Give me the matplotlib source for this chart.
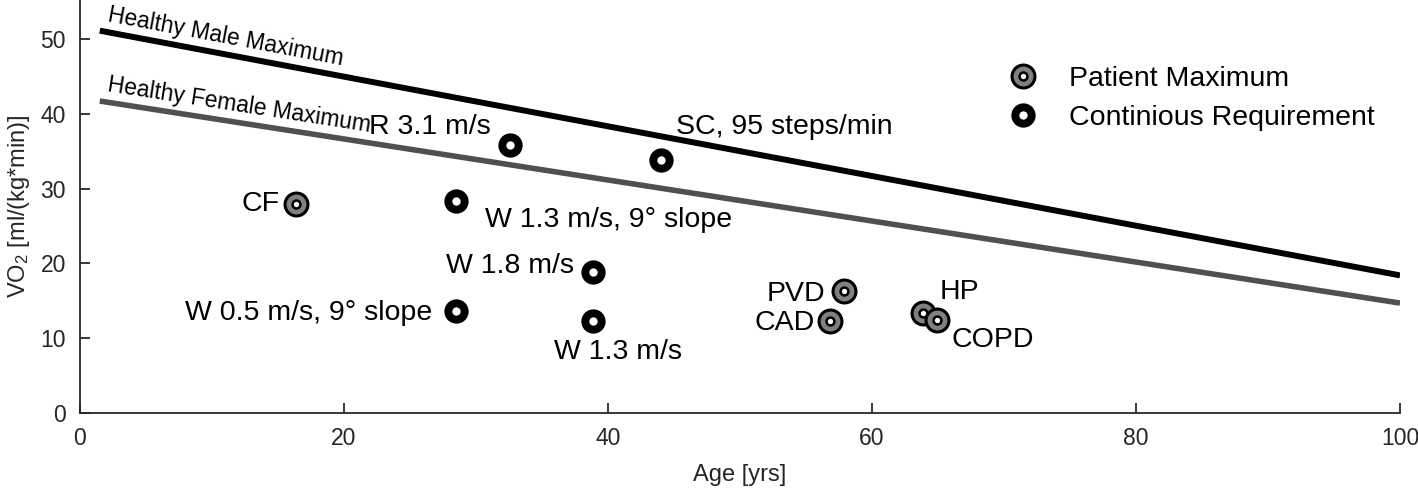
import numpy as np
import matplotlib; matplotlib.use("Agg")
import matplotlib.pyplot as plt
from matplotlib.lines import Line2D

plt.rcParams["font.family"] = ["Liberation Sans", "DejaVu Sans"]
plt.rcParams["mathtext.fontset"] = "custom"
plt.rcParams["mathtext.rm"] = "Liberation Sans"
plt.rcParams["mathtext.default"] = "rm"

# healthy maxima (line ends)
line_age = [1.5, 100]
male_vo2 = [51.1, 18.4]
female_vo2 = [41.7, 14.7]

# patient maximum
pat_names = ["CF", "PVD", "CAD", "HP", "COPD"]
pat_age = [16.4, 57.9, 56.8, 63.9, 64.9]
pat_vo2 = [28.0, 16.3, 12.3, 13.4, 12.4]

# continuous requirement
req_names = ["R 3.1 m/s", "SC, 95 steps/min", "W 1.3 m/s, 9° slope", "W 1.8 m/s",
             "W 0.5 m/s, 9° slope", "W 1.3 m/s"]
req_age = [32.6, 44.0, 28.5, 38.9, 28.5, 38.9]
req_vo2 = [35.8, 33.8, 28.3, 18.8, 13.6, 12.3]

# label offsets in pixels (dx, dy, ha)
pat_off = [(-17, 0, "right"), (-19, -3, "right"), (-15, -2, "right"), (16, 21, "left"), (15, -20, "left")]
req_off = [(-20, 18, "right"), (15, 33, "left"), (29, -19, "left"), (-19, 6, "right"),
           (-24, -2, "right"), (-39, -31, "left")]

fig = plt.figure(figsize=(14.18, 4.90), dpi=100)
ax = fig.add_axes([0.0564, 0.157, 0.9309, 0.843])
ax.set_xlim(0, 100); ax.set_ylim(0, 55.2)

ax.plot(line_age, male_vo2, color="black", lw=4.3, solid_capstyle="butt")
ax.plot(line_age, female_vo2, color="#505050", lw=4.0, solid_capstyle="butt")

# patient markers: gray disc, black ring, small white dot
pk = [dict(ls="none", marker="o", ms=16.5, mfc="#808080", mec="black", mew=2.2),
      dict(ls="none", marker="o", ms=7.5, mfc="black", mec="black", mew=0),
      dict(ls="none", marker="o", ms=3.8, mfc="white", mec="white", mew=0)]
rk = [dict(ls="none", marker="o", ms=17.5, mfc="black", mec="black", mew=0),
      dict(ls="none", marker="o", ms=6.0, mfc="white", mec="white", mew=0)]
for a, v in zip(pat_age, pat_vo2):
    for k in pk:
        ax.plot([a], [v], **k)
for k in rk:
    ax.plot(req_age, req_vo2, **k)

for n, a, v, (dx, dy, ha) in zip(pat_names, pat_age, pat_vo2, pat_off):
    ax.annotate(n, (a, v), xytext=(dx, dy), textcoords="offset pixels",
                ha=ha, va="center", fontsize=20.5)
for n, a, v, (dx, dy, ha) in zip(req_names, req_age, req_vo2, req_off):
    ax.annotate(n, (a, v), xytext=(dx, dy), textcoords="offset pixels",
                ha=ha, va="center", fontsize=20.5)

# rotated line labels
fig.canvas.draw()
for ys, txt, dy in [(male_vo2, "Healthy Male Maximum", 5), (female_vo2, "Healthy Female Maximum", 5)]:
    p0 = ax.transData.transform((line_age[0], ys[0]))
    p1 = ax.transData.transform((line_age[1], ys[1]))
    ang = np.degrees(np.arctan2(p1[1] - p0[1], p1[0] - p0[0]))
    ax.annotate(txt, (line_age[0], ys[0]), xytext=(6, dy), textcoords="offset pixels",
                rotation=ang, rotation_mode="anchor", ha="left", va="bottom", fontsize=16.5)

h_pat = tuple(Line2D([], [], **k) for k in pk)
h_req = tuple(Line2D([], [], **k) for k in rk)
ax.legend([h_pat, h_req], ["Patient Maximum", "Continious Requirement"], loc="upper right",
          bbox_to_anchor=(1.0, 0.903), frameon=False, fontsize=20.5, handlelength=1.2,
          handletextpad=1.0, labelspacing=0.45)

for s in ["top", "right"]:
    ax.spines[s].set_visible(False)
for s in ["left", "bottom"]:
    ax.spines[s].set_color("#262626"); ax.spines[s].set_linewidth(1.3)
ax.set_xticks([0, 20, 40, 60, 80, 100]); ax.set_yticks([0, 10, 20, 30, 40, 50])
ax.tick_params(direction="in", length=7, width=1.3, colors="#262626", labelsize=16.5, pad=10)
ax.set_xlabel("Age [yrs]", fontsize=17, color="#262626", labelpad=10)
ax.set_ylabel("VO$_2$ [ml/(kg*min)]", fontsize=17, color="#262626", labelpad=6)

fig.savefig("out.png", dpi=100)
